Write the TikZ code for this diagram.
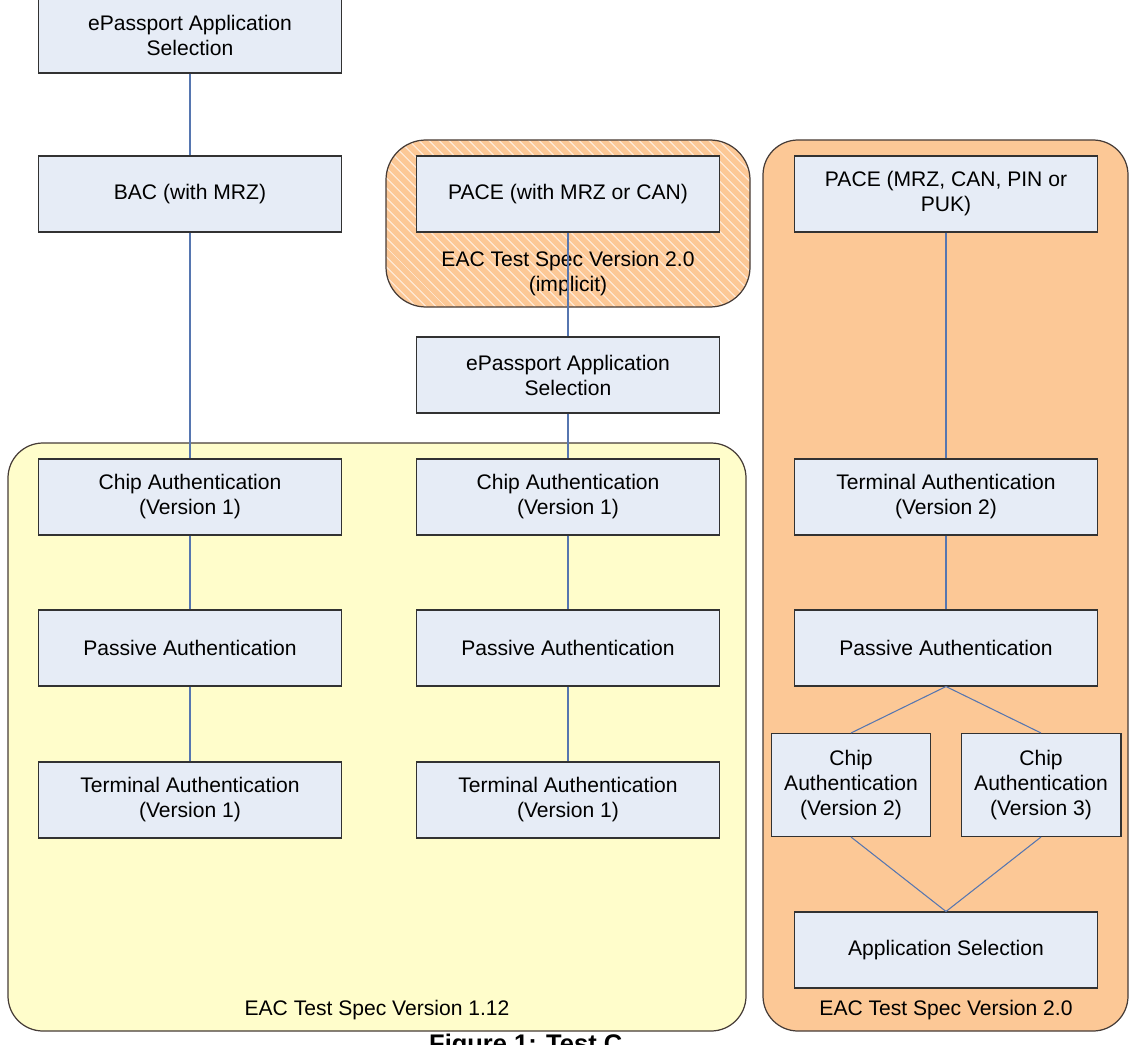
\documentclass[tikz,border=0pt]{standalone}
\usepackage{fontspec}
\setmainfont{Liberation Sans}
\usetikzlibrary{patterns.meta}
\definecolor{boxfill}{RGB}{230,236,246}
\definecolor{boxline}{RGB}{50,50,50}
\definecolor{linkblue}{RGB}{86,118,176}
\definecolor{paleyellow}{RGB}{255,253,203}
\definecolor{apricot}{RGB}{252,200,150}
\definecolor{panelline}{RGB}{70,60,55}
\tikzset{
  stage/.style = {
    draw=boxline, fill=boxfill, line width=0.6pt, align=center,
    minimum width=6.06cm, minimum height=1.52cm, inner sep=1pt,
    font=\fontsize{12}{14.2}\selectfont
  },
  panel/.style = {draw=panelline, line width=0.7pt, rounded corners=0.7cm},
  link/.style = {draw=linkblue, line width=0.6pt}
}

\begin{document}
\begin{tikzpicture}[x=0.02cm,y=-0.02cm]
  \useasboundingbox (0,0) rectangle (1135,1044);
  % panels
  \draw[panel,fill=paleyellow] (8,443) rectangle (746,1031);
  \draw[panel,fill=apricot] (763,140) rectangle (1128,1031);
  \fill[apricot,rounded corners=0.8cm] (386,140) rectangle (750,307);
  \draw[panel,rounded corners=0.8cm,pattern={Lines[angle=-45,distance=4pt,line width=0.8pt]},pattern color=apricot!45!white] (386,140) rectangle (750,307);
  \node[font=\fontsize{12}{14.2}\selectfont,align=center] (implicit) at (568,274) {EAC Test Spec Version 2.0\\(implicit)};
  \node[font=\fontsize{12}{14.2}\selectfont] (spec112) at (377,1010) {EAC Test Spec Version 1.12};
  \node[font=\fontsize{12}{14.2}\selectfont] (spec20) at (946,1010) {EAC Test Spec Version 2.0};

  % left column
  \node[stage] (sel1) at (190,35) {ePassport Application\\Selection};
  \node[stage] (bac) at (190,194) {BAC (with MRZ)};
  \node[stage] (chip1) at (190,497) {Chip Authentication\\(Version 1)};
  \node[stage] (pas1) at (190,648) {Passive Authentication};
  \node[stage] (term1) at (190,800) {Terminal Authentication\\(Version 1)};
  % middle column
  \node[stage] (pace1) at (568,194) {PACE (with MRZ or CAN)};
  \node[stage] (sel2) at (568,375) {ePassport Application\\Selection};
  \node[stage] (chip2) at (568,497) {Chip Authentication\\(Version 1)};
  \node[stage] (pas2) at (568,648) {Passive Authentication};
  \node[stage] (term2) at (568,800) {Terminal Authentication\\(Version 1)};
  % right column
  \node[stage] (pace2) at (946,194) {PACE (MRZ, CAN, PIN or\\PUK)};
  \node[stage] (term3) at (946,497) {Terminal Authentication\\(Version 2)};
  \node[stage] (pas3) at (946,648) {Passive Authentication};
  \node[stage,minimum width=3.18cm,minimum height=2.06cm] (chip3) at (851,785) {Chip\\Authentication\\(Version 2)};
  \node[stage,minimum width=3.2cm,minimum height=2.06cm] (chip4) at (1041,785) {Chip\\Authentication\\(Version 3)};
  \node[stage] (app) at (946,950) {Application Selection};

  \foreach \a/\b in {sel1/bac,bac/chip1,chip1/pas1,pas1/term1,pace1/sel2,sel2/chip2,chip2/pas2,pas2/term2,pace2/term3,term3/pas3} {
    \draw[link] (\a.south) -- (\b.north);
  }
  \draw[link] (pas3.south) -- (chip3.north);
  \draw[link] (pas3.south) -- (chip4.north);
  \draw[link] (chip3.south) -- (app.north);
  \draw[link] (chip4.south) -- (app.north);

  % caption, cut off by the page edge as in the original
  \node[anchor=base west,font=\bfseries\fontsize{14.5}{17}\selectfont] (caption) at (423,1052) {Figure 1: Test C};
\end{tikzpicture}
\end{document}
